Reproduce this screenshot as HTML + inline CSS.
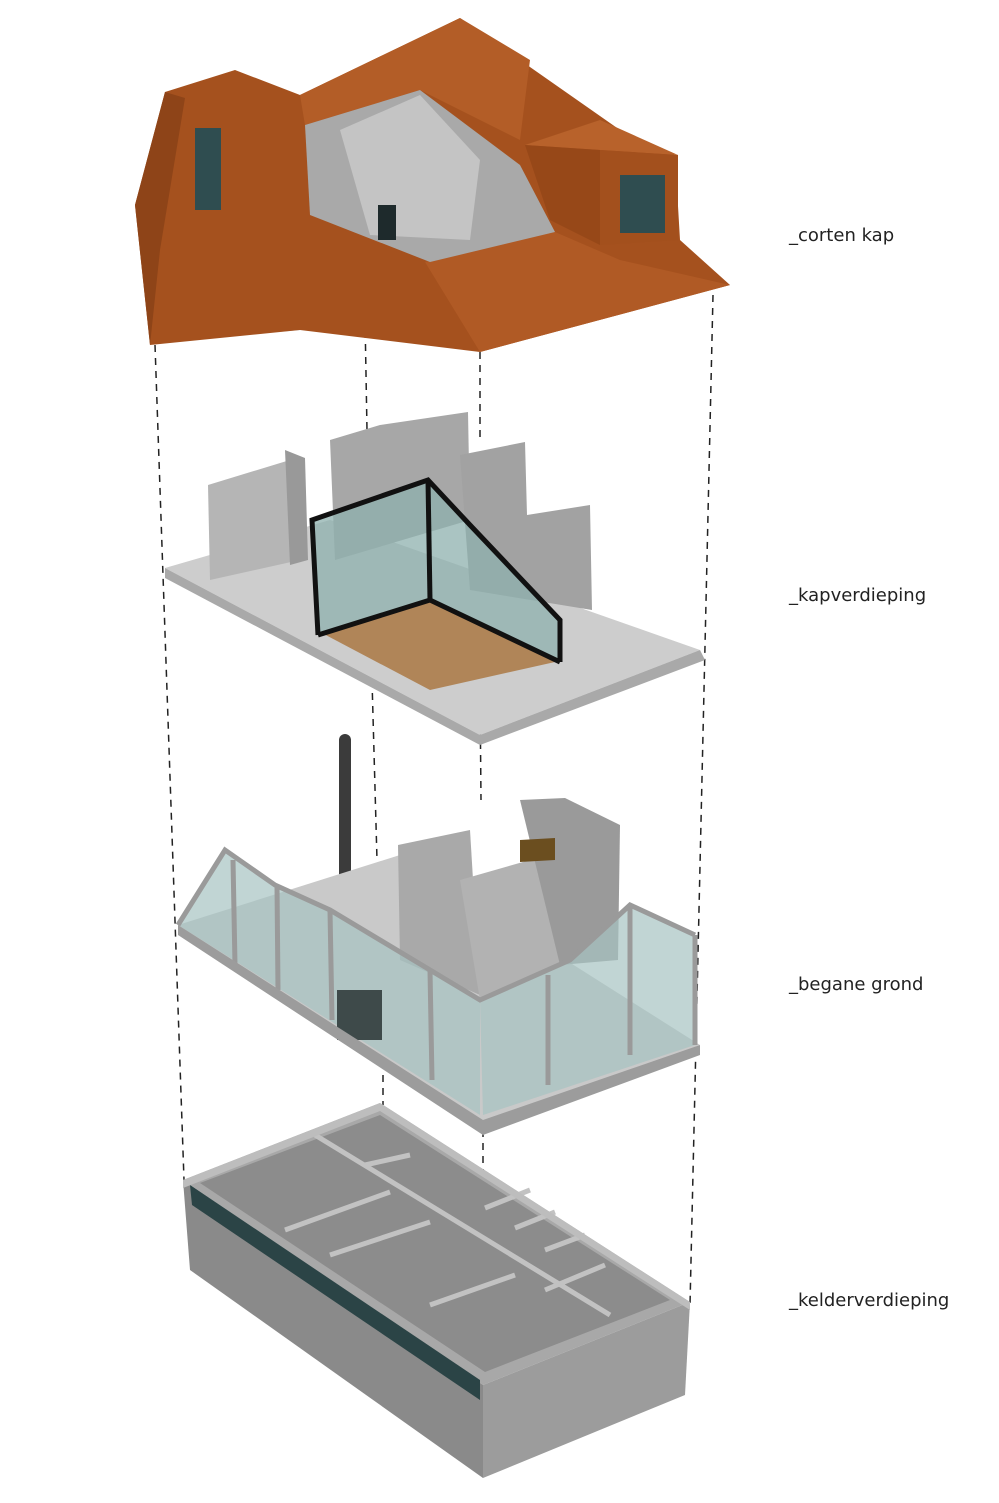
<!DOCTYPE html>
<html><head><meta charset="utf-8"><style>
html,body{margin:0;padding:0;background:#fff}
svg{display:block}
text{font-family:"DejaVu Sans","Liberation Sans",sans-serif;font-size:18px;fill:#222}
</style></head><body>
<svg width="999" height="1503" viewBox="0 0 999 1503" xmlns="http://www.w3.org/2000/svg">
<g stroke="#222" stroke-width="1.5" stroke-dasharray="7,6" fill="none">
<line x1="155" y1="345" x2="184" y2="1180"/>
<line x1="365" y1="318" x2="367" y2="430"/>
<line x1="372" y1="680" x2="377" y2="860"/>
<line x1="383" y1="1075" x2="383" y2="1105"/>
<line x1="480" y1="352" x2="480" y2="440"/>
<line x1="480" y1="690" x2="481" y2="800"/>
<line x1="483" y1="1130" x2="483" y2="1400"/>
<line x1="713" y1="295" x2="690" y2="1305"/>
</g>

<polygon points="175,255 300,330 160,342" fill="#b9b9b9"/>
<polygon points="165,92 235,70 300,95 460,18 620,130 675,155 680,240 730,285 480,352 300,330 150,345 135,205" fill="#a5511e"/>
<polygon points="235,70 300,95 460,18 530,60 520,140 420,90 305,125 300,95" fill="#b35d27"/>
<polygon points="135,205 165,92 185,98 160,250 150,345" fill="#8e4418"/>
<polygon points="425,262 555,232 620,260 730,285 480,352" fill="#b05a25"/>
<polygon points="305,125 420,90 520,165 555,232 430,262 310,215" fill="#a9a9a9"/>
<polygon points="340,130 420,95 480,160 470,240 370,235" fill="#c4c4c4"/>
<rect x="378" y="205" width="18" height="35" fill="#1e2a2c"/>
<polygon points="525,145 600,120 678,155 600,150" fill="#b8622b"/>
<polygon points="525,145 600,150 600,245 550,220" fill="#974818"/>
<polygon points="600,150 678,155 678,240 600,245" fill="#a3501d"/>
<rect x="620" y="175" width="45" height="58" fill="#2f4d50"/>
<rect x="195" y="128" width="26" height="82" fill="#2f4d50"/>

<polygon points="165,568 330,520 700,650 480,735" fill="#cdcdcd"/>
<polygon points="165,568 480,735 700,650 705,660 480,745 165,578" fill="#a9a9a9"/>
<polygon points="208,485 290,460 300,560 210,580" fill="#b5b5b5"/>
<polygon points="285,450 305,458 308,560 290,565" fill="#999"/>
<polygon points="330,440 380,425 468,412 470,520 335,560" fill="#a7a7a7"/>
<polygon points="460,455 525,442 527,515 590,505 592,610 470,590" fill="#a2a2a2"/>
<polygon points="320,632 430,600 555,662 430,690" fill="#b08558"/>
<polygon points="312,520 428,480 560,620 560,662 430,600 318,635" fill="#8eb0ae" opacity="0.75"/>
<g stroke="#111" stroke-width="5" fill="none">
<polyline points="318,635 312,520 428,480 470,525 560,620 560,662"/>
<line x1="428" y1="480" x2="430" y2="600"/>
<polyline points="318,635 430,600 560,662"/>
</g>

<line x1="345" y1="740" x2="345" y2="1010" stroke="#3b3b3b" stroke-width="12" stroke-linecap="round"/>
<polygon points="178,925 400,855 700,1045 483,1130" fill="#c9c9c9"/>
<polygon points="398,845 470,830 480,995 400,960" fill="#a9a9a9"/>
<polygon points="460,880 565,850 570,960 480,1000" fill="#b2b2b2"/>
<polygon points="520,800 565,798 620,825 618,960 560,965" fill="#9a9a9a"/>
<polygon points="520,840 555,838 555,860 520,862" fill="#6b4e1f"/>
<polygon points="178,925 225,850 275,885 330,910 480,1000 480,1115" fill="#a7c3c2" opacity="0.7"/>
<polygon points="480,1000 570,960 630,905 695,935 695,1045 483,1115" fill="#a7c3c2" opacity="0.7"/>
<g stroke="#9a9a9a" stroke-width="5" fill="none">
<polyline points="178,925 225,850 275,885 330,910 480,1000 570,960 630,905 695,935"/>
<line x1="233" y1="860" x2="235" y2="965"/>
<line x1="277" y1="885" x2="278" y2="990"/>
<line x1="330" y1="910" x2="332" y2="1020"/>
<line x1="430" y1="970" x2="432" y2="1080"/>
<line x1="548" y1="975" x2="548" y2="1085"/>
<line x1="630" y1="905" x2="630" y2="1055"/>
<line x1="695" y1="935" x2="695" y2="1045"/>
</g>
<rect x="337" y="990" width="45" height="50" fill="#3e4a4a"/>
<polygon points="178,925 483,1120 700,1045 700,1055 483,1135 178,935" fill="#9c9c9c"/>

<polygon points="183,1180 380,1103 690,1302 483,1385" fill="#a8a8a8"/>
<polygon points="200,1183 380,1115 670,1300 485,1372" fill="#8c8c8c"/>
<g stroke="#c2c2c2" stroke-width="5" fill="none">
<line x1="315" y1="1135" x2="610" y2="1315"/>
<line x1="285" y1="1230" x2="390" y2="1192"/>
<line x1="330" y1="1255" x2="430" y2="1222"/>
<line x1="430" y1="1305" x2="515" y2="1275"/>
<line x1="545" y1="1290" x2="605" y2="1265"/>
<line x1="485" y1="1208" x2="530" y2="1190"/>
<line x1="515" y1="1228" x2="555" y2="1212"/>
<line x1="545" y1="1250" x2="585" y2="1235"/>
<line x1="365" y1="1165" x2="410" y2="1155"/>
</g>
<polygon points="183,1180 483,1385 483,1478 190,1270" fill="#8a8a8a"/>
<polygon points="483,1385 690,1302 685,1395 483,1478" fill="#9c9c9c"/>
<polygon points="190,1185 480,1380 480,1400 192,1205" fill="#2b4446"/>
<polygon points="183,1180 380,1103 690,1302 690,1310 380,1111 183,1188" fill="#bdbdbd"/>

<text x="789" y="241">_corten kap</text>
<text x="789" y="601">_kapverdieping</text>
<text x="789" y="990">_begane grond</text>
<text x="789" y="1306">_kelderverdieping</text>
</svg>
</body></html>
